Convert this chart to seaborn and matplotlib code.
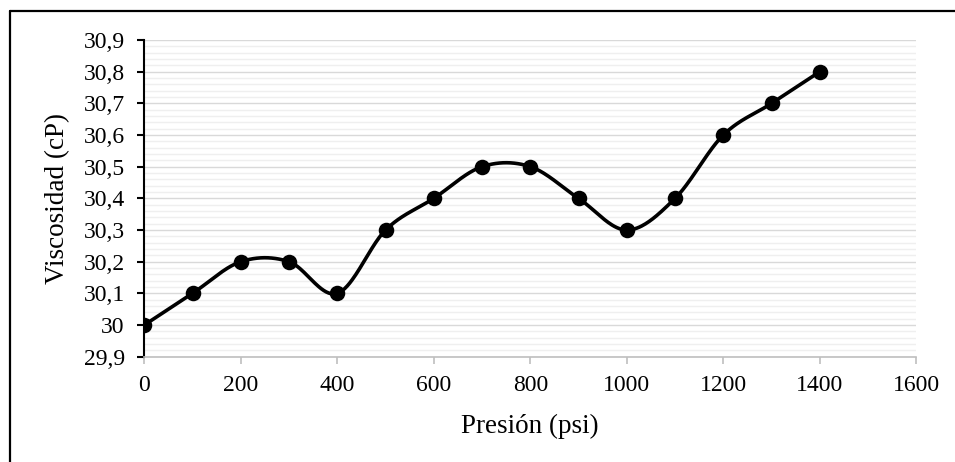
import numpy as np
import pandas as pd
import matplotlib
matplotlib.use("Agg")
import matplotlib.pyplot as plt
from matplotlib.lines import Line2D
from matplotlib.ticker import MultipleLocator, FuncFormatter
import seaborn as sns

# Measured data
presion = [0, 100, 200, 300, 400, 500, 600, 700, 800, 900, 1000, 1100, 1200, 1300, 1400]
viscosidad = [30.0, 30.1, 30.2, 30.2, 30.1, 30.3, 30.4, 30.5, 30.5, 30.4, 30.3, 30.4, 30.6, 30.7, 30.8]

x_ticks = [0, 200, 400, 600, 800, 1000, 1200, 1400, 1600]
y_ticks = [29.9, 30.0, 30.1, 30.2, 30.3, 30.4, 30.5, 30.6, 30.7, 30.8, 30.9]

x_label = "Presión (psi)"
y_label = "Viscosidad (cP)"


def smooth_curve(xs, ys, tension=1 / 6, n=40):
    """Cubic Bezier smoothing through every point (spreadsheet-style)."""
    p = np.column_stack([xs, ys]).astype(float)
    out = []
    m = len(p)
    for i in range(m - 1):
        p0 = p[i - 1] if i > 0 else p[i]
        p1 = p[i]
        p2 = p[i + 1]
        p3 = p[i + 2] if i + 2 < m else p[i + 1]
        c1 = p1 + (p2 - p0) * tension
        c2 = p2 - (p3 - p1) * tension
        t = np.linspace(0, 1, n)[:, None]
        seg = ((1 - t) ** 3) * p1 + 3 * ((1 - t) ** 2) * t * c1 + 3 * (1 - t) * t ** 2 * c2 + t ** 3 * p2
        out.append(seg if i == 0 else seg[1:])
    out = np.vstack(out)
    return out[:, 0], out[:, 1]


sns.set_theme(style="white")
plt.rcParams["font.family"] = ["Liberation Serif", "DejaVu Serif"]

fig = plt.figure(figsize=(9.55, 4.62), dpi=100)
ax = fig.add_axes([0.1511, 0.2279, 0.9595 - 0.1511, 0.9134 - 0.2279])

sx, sy = smooth_curve(presion, viscosidad)
curve = pd.DataFrame({"x": sx, "y": sy})
pts = pd.DataFrame({"x": presion, "y": viscosidad})

sns.lineplot(data=curve, x="x", y="y", ax=ax, color="black", linewidth=2.6,
             sort=False, estimator=None, zorder=3)
sns.scatterplot(data=pts, x="x", y="y", ax=ax, color="black", s=125,
                edgecolor="black", linewidth=0, zorder=4)

ax.set_xlim(0, 1600)
ax.set_ylim(29.9, 30.9)
ax.set_xticks(x_ticks)
ax.set_yticks(y_ticks)
ax.yaxis.set_minor_locator(MultipleLocator(0.02))
ax.xaxis.set_major_formatter(FuncFormatter(lambda v, _: f"{v:.0f}"))
ax.yaxis.set_major_formatter(
    FuncFormatter(lambda v, _: (f"{v:.1f}".rstrip("0").rstrip(".")).replace(".", ",")))

ax.grid(axis="y", which="major", color="#d9d9d9", linewidth=1.0, zorder=0)
ax.grid(axis="y", which="minor", color="#efefef", linewidth=1.0, zorder=0)
ax.grid(axis="x", visible=False)
ax.set_axisbelow(True)

for side in ("top", "right"):
    ax.spines[side].set_visible(False)
ax.spines["left"].set_color("black")
ax.spines["left"].set_linewidth(1.5)
ax.spines["bottom"].set_color("#bfbfbf")
ax.spines["bottom"].set_linewidth(1.2)

ax.tick_params(axis="y", which="major", direction="out", length=5, width=1.5,
               color="black", labelsize=17, pad=9, left=True)
ax.tick_params(axis="y", which="minor", length=0)
ax.tick_params(axis="x", which="major", direction="out", length=5, width=1.2,
               color="#bfbfbf", labelsize=17, pad=8, bottom=True)
for lab in ax.get_xticklabels() + ax.get_yticklabels():
    lab.set_color("black")

ax.set_xlabel(x_label, fontsize=19.5, color="black", labelpad=13)
ax.set_ylabel(y_label, fontsize=19.5, color="black", labelpad=10)

# Outer frame
fig.add_artist(Line2D([9.5 / 955, 9.5 / 955], [0, 1 - 10.5 / 462],
                      transform=fig.transFigure, color="black", linewidth=1.6))
fig.add_artist(Line2D([9.5 / 955, 1], [1 - 10.5 / 462, 1 - 10.5 / 462],
                      transform=fig.transFigure, color="black", linewidth=1.6))

fig.savefig("out.png", dpi=100, facecolor="white")
